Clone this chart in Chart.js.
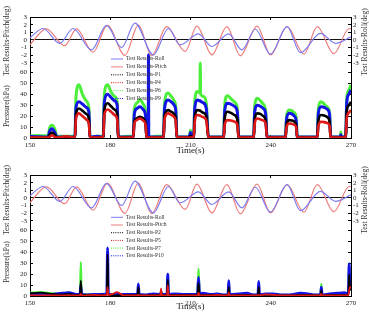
<!DOCTYPE html>
<html>
<head>
<meta charset="utf-8">
<script src="https://cdn.jsdelivr.net/npm/chart.js@4.4.0/dist/chart.umd.min.js"></script>
<style>
  body { margin: 0; background: #fff; }
  canvas { display: block; }
</style>
</head>
<body>
<canvas id="topChart" width="369" height="156"></canvas>
<canvas id="bottomChart" width="369" height="156"></canvas>
<script>
// axis ranges (pressure on the left, angle shares the same box)
const PMAX = 110.5, AMIN = -12.8, AMAX = 3;
const angleTicks = [3, 2, 1, 0, -1, -2, -3];
const pressureTicks = [60, 50, 40, 30, 20, 10, 0];
const timeTicks = [150, 180, 210, 240, 270];

// roll / pitch, read at peaks and troughs (same in both panels)
const rollTime = [150, 154.9, 161.1, 166.1, 173.0, 178.6, 184.25, 189.25, 196.1, 201.75, 206.1,
  213.0, 218.0, 224.25, 229.25, 234.25, 239.9, 246.1, 251.1, 258.6, 264.25, 270];
const rollDeg = [0.3, 1.5, -0.45, 1.5, -1.3, 1.9, -1.0, 2.2, -1.95, 1.5, -0.65,
  0.8, -0.85, 0.8, -1.3, 1.4, -1.85, 1.75, -1.65, 0.85, -0.45, 0.4];
const pitchTime = [150, 156.1, 163.0, 167.4, 173.6, 178.9, 185.5, 190.5, 195.5, 201.1, 208.0,
  212.4, 218.0, 223.6, 228.6, 234.9, 239.9, 246.1, 252.4, 257.4, 263.6, 269.3, 270];
const pitchDeg = [-0.6, 1.45, -0.75, 1.45, -1.6, 1.9, -2.0, 1.95, -2.05, 1.75, -1.5,
  1.8, -1.95, 1.75, -2.05, 1.8, -1.95, 1.75, -1.85, 1.75, -1.8, 1.5, 1.45];

// top panel pressures (kPa)
const timeTop = [
  150, 153, 156.8, 157.3, 158.2, 159.3, 160, 163.5,
  166.8, 167.2, 168.3, 169.6, 171, 172, 172.4, 175,
  177.4, 177.8, 179, 180.3, 181.6, 182.6, 183, 186,
  188.6, 189, 190, 191.1, 192.3, 193.2, 193.6, 194.2, 194.3, 194.4, 197,
  199.9, 200.3, 201.6, 202.8, 203.9, 204.5, 204.9, 209.5, 210, 210.5,
  211.2, 211.6, 212.6, 213.5, 213.65, 213.8, 214.8, 215.9, 216.7, 219.5,
  222.4, 222.8, 223.8, 225.1, 226.4, 227.5, 228, 231,
  233.6, 234, 235, 236.1, 237.2, 238.1, 238.6, 242,
  245.5, 245.9, 246.9, 247.8, 248.8, 249.5, 249.9, 253.5,
  257.4, 257.8, 258.8, 260, 261.2, 262, 262.4, 265.5, 266, 266.2, 266.4,
  268, 268.4, 269.2, 270];
const p6 = [
  2, 2.2, 2, 9, 11.7, 8, 1.5, 1.5,
  1.5, 38, 48.6, 40, 34, 28, 1, 1.5,
  1.5, 40, 48.6, 42, 38, 33, 1, 1.5,
  1.5, 26, 32, 35, 31, 24, 1, 1, 1, 1, 1.5,
  1.5, 32, 41, 38, 34, 28, 1, 1, 7, 1,
  1, 34, 42.5, 41, 68.6, 40, 38, 32, 1, 1,
  1, 31, 38.5, 36, 33, 27, 1, 1,
  1, 29, 36.3, 34, 31, 25, 1, 1,
  1, 20, 25.5, 25, 23, 19, 1, 1,
  1, 27, 33, 31, 28, 23, 1, 1, 1, 5.5, 1,
  1, 36, 44, 48.6];
const p9 = [
  1.5, 1.2, 1, 6, 8.5, 5, 1, 1,
  1, 28, 33, 31, 28, 24, 1, 1.5,
  1, 33, 40, 37, 34, 30, 1, 1,
  1, 22, 27, 28.6, 26, 20, 1, 1, 76, 1, 1,
  1, 27, 34.8, 33, 30, 25, 1, 1, 5, 1,
  1, 27, 34.8, 34, 34, 33.5, 32, 27, 1, 1,
  1, 25, 31.7, 31, 29, 24, 1, 1,
  1, 24, 30, 29, 27, 22, 1, 1,
  1, 17, 22.5, 22, 20, 16, 1, 1,
  1, 23, 28.6, 28, 26, 21, 1, 1, 1, 3, 1,
  1, 32, 40, 44];
const p1 = [
  0.5, 0.5, 0.5, 3, 5, 3, 0.5, 0.8,
  0.5, 22, 27, 25, 22, 18, 0.5, 0.5,
  0.5, 26, 31.7, 29, 26, 22, 0.5, 0.5,
  0.5, 15, 18, 19.4, 18, 14, 0.5, 0.5, 0.5, 0.5, 0.5,
  0.5, 20, 25.5, 24, 22, 18, 0.5, 0.5, 2, 0.5,
  0.5, 19, 25.5, 25, 25, 24.5, 23, 20, 0.5, 0.5,
  0.5, 18, 24, 23, 21, 17, 0.5, 0.5,
  0.5, 17, 22.5, 22, 20, 16, 0.5, 0.5,
  0.5, 12, 16.3, 16, 15, 12, 0.5, 0.5,
  0.5, 16, 21, 20.5, 19, 15, 0.5, 0.5, 0.5, 1, 0.5,
  0.5, 24, 30, 33];
const p4 = [
  0.3, 0.3, 0.3, 1, 2.5, 1, 0.3, 1.5,
  0.5, 18, 22.5, 20, 17, 13, 0.5, 0.5,
  0.5, 21, 26, 24, 21, 17, 0.5, 0.5,
  0.5, 13, 16.5, 17.8, 16, 12, 0.5, 0.5, 0.5, 0.5, 0.5,
  0.5, 17, 22.5, 21, 19, 15, 0.5, 0.5, 0.5, 0.5,
  0.5, 15, 21, 20.5, 20.5, 20, 19, 16, 0.5, 0.5,
  0.5, 12, 16.3, 16, 15, 12, 0.5, 0.5,
  0.5, 13, 17.8, 17, 16, 13, 0.5, 0.5,
  0.5, 10, 13.2, 13, 12, 10, 0.5, 0.5,
  0.5, 11, 14.8, 14.5, 13.5, 11, 0.5, 0.5, 0.5, 0.5, 0.5,
  0.5, 18, 23, 25.5];

// bottom panel pressures (kPa)
const timeBot = [
  150, 154, 158, 162, 164.5, 167.5,
  168.7, 169, 169.3, 171, 174, 177,
  178.7, 179, 179.3, 181, 182.5, 185,
  190.2, 190.5, 190.8, 193, 196,
  198.7, 199, 199.3, 201.2, 201.5, 201.8, 204, 208,
  212.6, 213, 213.4, 214.5, 218, 220, 222,
  224, 224.3, 224.6, 228, 231, 233.5,
  235.2, 235.5, 235.8, 238, 241, 244, 247, 251, 254, 256.5,
  258.6, 258.9, 259.2, 262, 265, 267.5,
  269, 269.3, 269.6, 270];
const p7 = [
  3, 3.5, 2.5, 2, 3, 1.5,
  1.5, 31, 2, 1.5, 1.5, 2,
  1.5, 10, 1.5, 1, 1, 1.5,
  1, 5, 1, 1, 1.5,
  1, 2, 1, 1.5, 19, 1.5, 1.5, 1.5,
  1.5, 25, 2, 1, 1.5, 2, 1,
  1, 12.7, 1, 1.5, 2, 1,
  1, 4, 1, 1.5, 1.5, 1, 1, 1.5, 1.5, 1,
  1, 11, 1, 1.5, 1.5, 1.5,
  2, 30, 10, 6];
const p10 = [
  2, 2, 1.5, 2.5, 3, 1.5,
  1.5, 10, 1.5, 1, 1.5, 1.5,
  2, 44, 2, 1, 1.5, 1.5,
  1.5, 11, 1.5, 1, 2,
  1.5, 3, 1.5, 1.5, 20, 1.5, 2, 1.5,
  1.5, 17, 2, 2.5, 1.5, 2, 1,
  1, 14, 1.5, 2, 2.5, 1,
  1, 13.3, 1, 2, 2, 1, 1, 2.5, 2, 1,
  1, 8, 1, 2, 2.5, 3,
  2, 29.4, 12, 8];
const p2 = [
  2.5, 3, 2, 1.5, 2, 1,
  1, 14, 1, 1, 1, 1,
  1, 38, 1, 0.5, 0.5, 1,
  1, 8, 1, 0.5, 1,
  1, 5, 1, 1, 15, 1, 1, 1,
  1, 12, 1, 1, 1, 1, 0.5,
  0.5, 8, 0.5, 1, 1, 0.5,
  0.5, 8, 0.5, 1, 1, 0.5, 0.5, 1, 1, 0.5,
  0.5, 5, 0.5, 1, 1, 1,
  1, 20, 8, 5];
const p5 = [
  0.5, 0.5, 0.5, 0.5, 0.5, 0.5,
  0.5, 2, 0.5, 0.5, 1, 0.5,
  1, 8, 1, 2, 3.5, 0.5,
  0.5, 1, 0.5, 0.5, 0.5,
  0.5, 6.7, 0.5, 0.5, 10, 0.5, 0.5, 0.5,
  0.5, 3, 0.5, 0.5, 0.5, 1, 0.5,
  0.5, 3, 0.5, 0.5, 0.5, 0.5,
  0.5, 1, 0.5, 1.5, 1, 0.5, 0.5, 0.5, 0.5, 0.5,
  0.5, 2, 0.5, 0.5, 0.5, 0.5,
  0.5, 5, 8, 8];

const ROLL = '#7b7bf2', PITCH = '#ee7d7d';
const BLUE = '#1414e6', GREEN = '#4dee3a', BLACK = '#000000', RED = '#e01818';
const FONT = 'Liberation Serif';

function pts(xs, ys) {
  return xs.map((x, i) => ({ x: x, y: ys[i] }));
}
function angleToP(a) { return (a - AMIN) / (AMAX - AMIN) * PMAX; }
function pToAngle(p) { return AMIN + p / PMAX * (AMAX - AMIN); }

const titlesAndLegend = {
  id: 'titlesAndLegend',
  afterDatasetsDraw(chart, args, o) {
    const ctx = chart.ctx;
    ctx.save();
    ctx.fillStyle = '#333';
    ctx.font = '7.5px "' + FONT + '"';
    ctx.textAlign = 'center';
    ctx.textBaseline = 'middle';
    o.vtitles.forEach(t => {
      ctx.save();
      ctx.translate(t.x, t.y);
      ctx.rotate(-Math.PI / 2);
      ctx.fillText(t.text, 0, 0);
      ctx.restore();
    });
    // legend inside the plot
    ctx.font = '5.6px "' + FONT + '"';
    ctx.textAlign = 'left';
    o.order.forEach((label, i) => {
      const ds = chart.data.datasets.find(d => d.label === label);
      const y = o.y0 + i * o.dy;
      ctx.strokeStyle = ds.borderColor;
      ctx.lineWidth = 1;
      ctx.setLineDash(i < 2 ? [] : [1, 1.2]);
      ctx.beginPath();
      ctx.moveTo(111, y);
      ctx.lineTo(123, y);
      ctx.stroke();
      ctx.setLineDash([]);
      ctx.fillStyle = '#333';
      ctx.fillText(label, 126, y);
    });
    ctx.restore();
  }
};

function makeChart(id, cfg) {
  const datasets = [
    { label: 'Test Results-Roll', data: pts(rollTime, rollDeg), yAxisID: 'yA', borderColor: ROLL,
      borderWidth: 1.2, cubicInterpolationMode: 'monotone' },
    { label: 'Test Results-Pitch', data: pts(pitchTime, pitchDeg), yAxisID: 'yA', borderColor: PITCH,
      borderWidth: 1.2, cubicInterpolationMode: 'monotone' }
  ];
  cfg.series.forEach(s => {
    datasets.push({ label: s.label, data: pts(cfg.time, s.values), yAxisID: 'yP', borderColor: s.color,
      borderWidth: s.width, cubicInterpolationMode: 'monotone' });
  });

  new Chart(document.getElementById(id), {
    type: 'line',
    data: { datasets: datasets },
    options: {
      responsive: false,
      animation: false,
      devicePixelRatio: 1,
      layout: { padding: 0 },
      elements: { point: { radius: 0 }, line: { borderJoinStyle: 'round' } },
      plugins: {
        legend: { display: false },
        tooltip: { enabled: false },
        titlesAndLegend: { vtitles: cfg.vtitles, order: cfg.order, y0: cfg.legendY, dy: cfg.legendDy }
      },
      scales: {
        x: {
          type: 'linear', position: 'bottom', min: 150, max: 270,
          afterBuildTicks: s => { s.ticks = timeTicks.map(v => ({ value: v })); },
          afterFit: s => { s.height = cfg.bottomH; },
          ticks: { autoSkip: false, maxRotation: 0, padding: 6, color: '#222', font: { family: FONT, size: 7 } },
          grid: { drawOnChartArea: false, tickLength: -3, tickColor: '#000' },
          border: { color: '#000', width: 1 },
          title: { display: true, text: 'Time(s)', color: '#222', padding: 0, font: { family: FONT, size: 9 } }
        },
        x2: {
          type: 'linear', position: 'top', min: 150, max: 270,
          afterBuildTicks: s => { s.ticks = timeTicks.map(v => ({ value: v })); },
          afterFit: s => { s.height = cfg.topH; },
          ticks: { display: false },
          grid: { drawOnChartArea: false, tickLength: -3, tickColor: '#000' },
          border: { color: '#000', width: 1 }
        },
        yP: {
          type: 'linear', position: 'left', min: 0, max: PMAX,
          afterBuildTicks: s => {
            s.ticks = angleTicks.map(a => ({ value: angleToP(a), lab: String(a) }))
              .concat(pressureTicks.map(p => ({ value: p, lab: String(p) })));
          },
          afterFit: s => { s.width = 30; },
          ticks: { autoSkip: false, padding: 6, color: '#222', font: { family: FONT, size: 7 },
            callback: (v, i, ticks) => ticks[i].lab },
          grid: { drawOnChartArea: false, tickLength: -3, tickColor: '#000' },
          border: { color: '#000', width: 1 }
        },
        yA: {
          type: 'linear', position: 'right', min: AMIN, max: AMAX,
          afterBuildTicks: s => {
            s.ticks = angleTicks.map(a => ({ value: a, lab: String(a) }))
              .concat(pressureTicks.map(p => ({ value: pToAngle(p), lab: '' })));
          },
          afterFit: s => { s.width = 18; },
          ticks: { autoSkip: false, padding: 5, color: '#222', font: { family: FONT, size: 7 },
            callback: (v, i, ticks) => ticks[i].lab },
          grid: { drawOnChartArea: true, tickLength: -3, tickColor: '#000', lineWidth: 1,
            color: c => (c.tick && c.tick.value === 0 ? '#111' : 'rgba(0,0,0,0)') },
          border: { color: '#000', width: 1 }
        }
      }
    },
    plugins: [titlesAndLegend]
  });
}

makeChart('topChart', {
  time: timeTop,
  series: [
    { label: 'Test Results-P4', values: p4, color: RED, width: 2.6 },
    { label: 'Test Results-P1', values: p1, color: BLACK, width: 2.6 },
    { label: 'Test Results-P9', values: p9, color: BLUE, width: 3 },
    { label: 'Test Results-P6', values: p6, color: GREEN, width: 3 }
  ],
  order: ['Test Results-Roll', 'Test Results-Pitch', 'Test Results-P1', 'Test Results-P4', 'Test Results-P6', 'Test Results-P9'],
  legendY: 59, legendDy: 7.9,
  topH: 17, bottomH: 18,
  vtitles: [
    { text: 'Test Results-Pitch(deg)', x: 7, y: 41 },
    { text: 'Pressure(kPa)', x: 7, y: 106 },
    { text: 'Test Results-Roll(deg)', x: 365, y: 42 }
  ]
});

makeChart('bottomChart', {
  time: timeBot,
  series: [
    { label: 'Test Results-P5', values: p5, color: RED, width: 1.8 },
    { label: 'Test Results-P2', values: p2, color: BLACK, width: 1.8 },
    { label: 'Test Results-P10', values: p10, color: BLUE, width: 2.8 },
    { label: 'Test Results-P7', values: p7, color: GREEN, width: 2.2 }
  ],
  order: ['Test Results-Roll', 'Test Results-Pitch', 'Test Results-P2', 'Test Results-P5', 'Test Results-P7', 'Test Results-P10'],
  legendY: 61.3, legendDy: 7.7,
  topH: 19, bottomH: 16,
  vtitles: [
    { text: 'Test Results-Pitch(deg)', x: 7, y: 44 },
    { text: 'Pressure(kPa)', x: 7, y: 106 },
    { text: 'Test Results-Roll(deg)', x: 365, y: 44 }
  ]
});
</script>
</body>
</html>
